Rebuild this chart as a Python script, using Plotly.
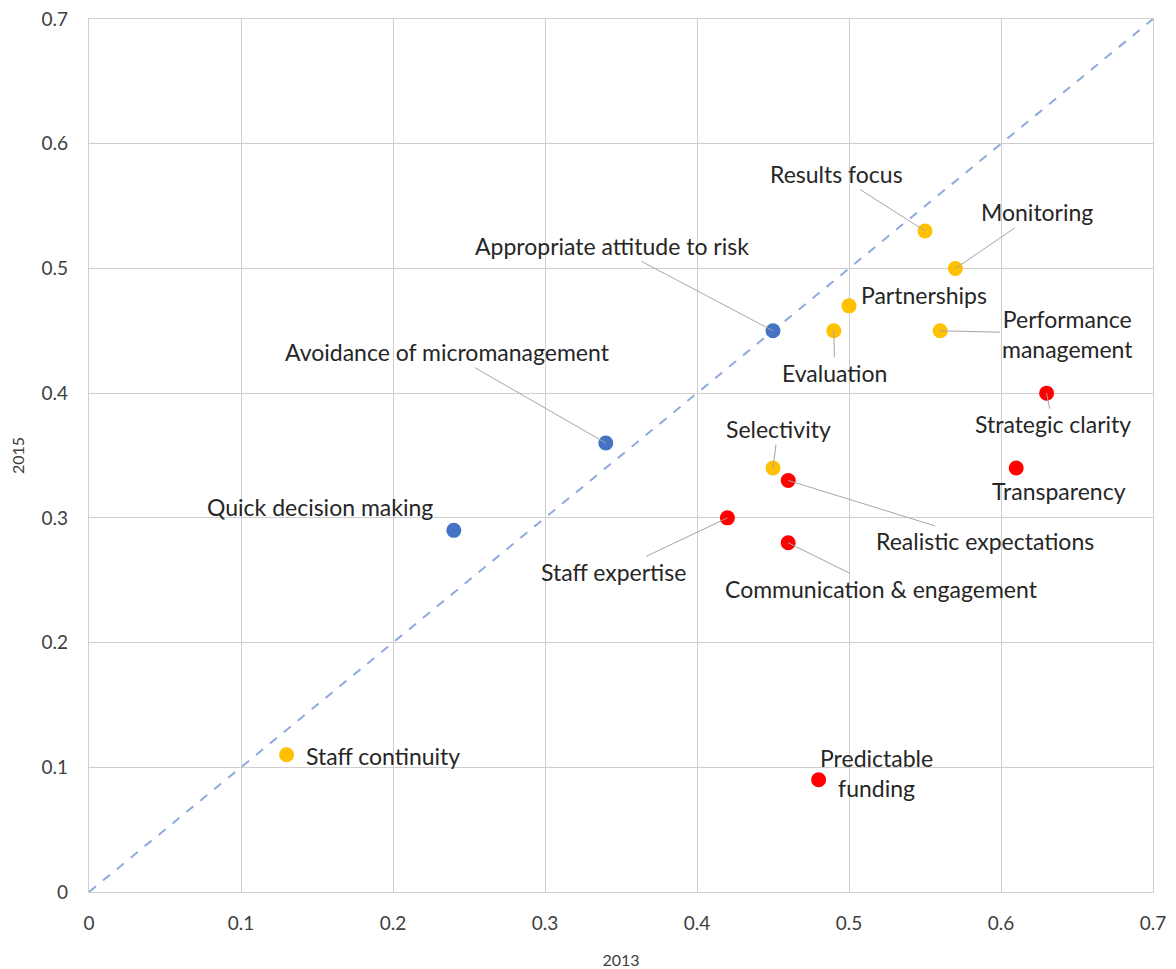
import plotly.graph_objects as go

# ---- data ----
yellow_names = ["Results focus", "Monitoring", "Partnerships", "Evaluation",
                "Performance<br>management", "Selectivity", "Staff continuity"]
yellow_2013 = [0.55, 0.57, 0.50, 0.49, 0.56, 0.45, 0.13]
yellow_2015 = [0.53, 0.50, 0.47, 0.45, 0.45, 0.34, 0.11]

red_names = ["Strategic clarity", "Transparency", "Realistic expectations",
             "Staff expertise", "Communication & engagement", "Predictable<br>funding"]
red_2013 = [0.63, 0.61, 0.46, 0.42, 0.46, 0.48]
red_2015 = [0.40, 0.34, 0.33, 0.30, 0.28, 0.09]

blue_names = ["Appropriate attitude to risk", "Avoidance of micromanagement",
              "Quick decision making"]
blue_2013 = [0.45, 0.34, 0.24]
blue_2015 = [0.45, 0.36, 0.29]

diag_x = [0, 0.7]
diag_y = [0, 0.7]

tick_vals = [0, 0.1, 0.2, 0.3, 0.4, 0.5, 0.6, 0.7]
tick_text = ["0", "0.1", "0.2", "0.3", "0.4", "0.5", "0.6", "0.7"]

# ---- label placement (pixel offsets from the point, leader line on/off) ----
label_style = {
    "Results focus": (-89, -57, True),
    "Monitoring": (82, -56, True),
    "Partnerships": (75, -11, False),
    "Evaluation": (1, 42, True),
    "Performance<br>management": (127, 3, True),
    "Selectivity": (5, -39, True),
    "Staff continuity": (96, 1, False),
    "Strategic clarity": (6, 31, True),
    "Transparency": (43, 23, False),
    "Realistic expectations": (197, 61, True),
    "Staff expertise": (-114, 54, True),
    "Communication & engagement": (93, 46, True),
    "Predictable<br>funding": (58, -7, False),
    "Appropriate attitude to risk": (-161, -85, True),
    "Avoidance of micromanagement": (-158, -91, True),
    "Quick decision making": (-134, -23, False),
}

FONT = "Lato, Open Sans, Liberation Sans, sans-serif"
GRID = "#CFCFCF"

fig = go.Figure()
fig.add_trace(go.Scatter(x=diag_x, y=diag_y, mode="lines",
                         line=dict(color="#8FAADC", width=2, dash="dash"),
                         hoverinfo="skip", showlegend=False))
for names, xs, ys, col in [(yellow_names, yellow_2013, yellow_2015, "#FFC000"),
                           (red_names, red_2013, red_2015, "#FF0000"),
                           (blue_names, blue_2013, blue_2015, "#4472C4")]:
    fig.add_trace(go.Scatter(x=xs, y=ys, mode="markers", text=names,
                             marker=dict(color=col, size=15, line=dict(width=0)),
                             showlegend=False))
    for n, x, y in zip(names, xs, ys):
        ax, ay, line = label_style[n]
        fig.add_annotation(x=x, y=y, text=n, showarrow=True, ax=ax, ay=ay,
                           arrowhead=0, arrowwidth=1,
                           arrowcolor="#A6A6A6" if line else "rgba(0,0,0,0)",
                           font=dict(family=FONT, size=23, color="#262626"),
                           align="center")

axis_common = dict(range=[0, 0.7], tickvals=tick_vals, ticktext=tick_text,
                   showgrid=True, gridcolor=GRID, gridwidth=1.3,
                   zeroline=False, showline=True, linecolor=GRID, linewidth=1.3,
                   mirror=True, ticks="", automargin=False,
                   ticklabeloverflow="allow",
                   tickfont=dict(family=FONT, size=19, color="#404040"),
                   fixedrange=True)
fig.update_xaxes(**axis_common, ticklabelstandoff=14,
                 title=dict(text="2013", font=dict(family=FONT, size=16, color="#404040"),
                            standoff=30))
fig.update_yaxes(**axis_common, ticklabelstandoff=16,
                 title=dict(text="2015", font=dict(family=FONT, size=16, color="#404040"),
                            standoff=24))
# page body has an 8px margin; offset the figure so the plot lands where it should
fig.update_layout(width=1160, height=961, margin=dict(l=81, r=15, t=11, b=77),
                  plot_bgcolor="white", paper_bgcolor="white")
fig.write_html("out.html")
